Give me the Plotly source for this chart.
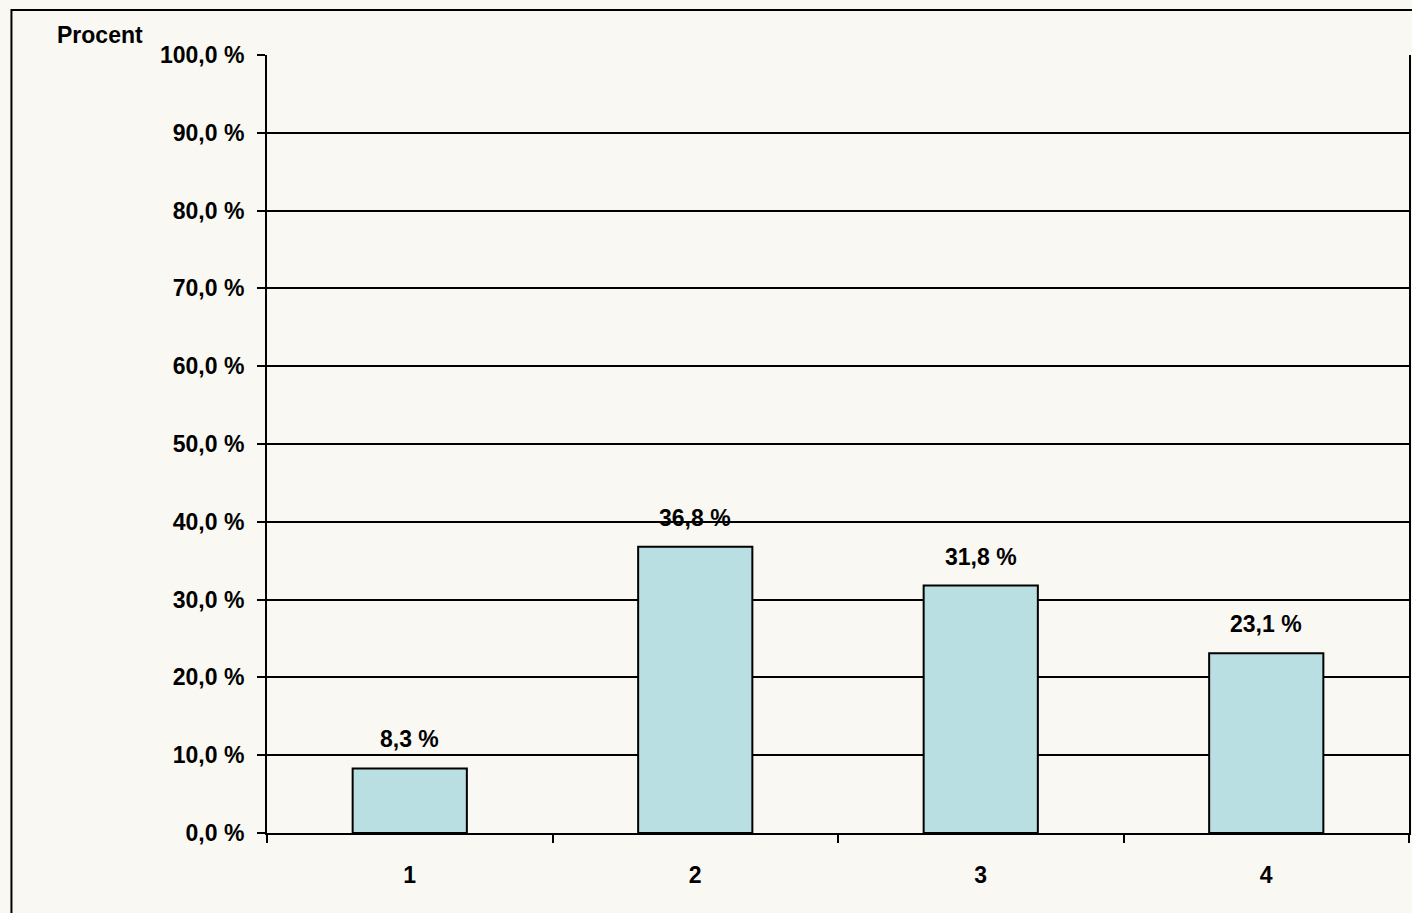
import plotly.graph_objects as go

categories = [1, 2, 3, 4]
category_labels = ["1", "2", "3", "4"]
values = [8.3, 36.8, 31.8, 23.1]
y_ticks = [0, 10, 20, 30, 40, 50, 60, 70, 80, 90, 100]
y_tick_labels = [f"{t:.1f} %".replace(".", ",") for t in y_ticks]

FONT = "Liberation Sans, Arial, sans-serif"
BG = "#F9F8F2"
TXT = dict(family=FONT, size=23, color="black", weight="bold")

fig = go.Figure()
fig.add_trace(go.Bar(
    x=categories,
    y=values,
    width=0.4,
    marker=dict(color="#B9DFE3", line=dict(color="black", width=2)),
    hoverinfo="skip",
))

for c, v in zip(categories, values):
    fig.add_annotation(
        x=c, y=v, xref="x", yref="y",
        text=f"{v:.1f} %".replace(".", ","),
        showarrow=False, yanchor="middle", yshift=29,
        font=TXT,
    )

fig.add_annotation(
    x=(99.5 - 267) / 1144, y=(833 - 35) / 778, xref="paper", yref="paper",
    text="Procent", showarrow=False, xanchor="center", yanchor="middle",
    font=TXT,
)

# outer chart frame
fig.add_shape(
    type="rect", xref="paper", yref="paper",
    x0=(11 - 267) / 1144, x1=1.2, y0=-0.3, y1=(833 - 10) / 778,
    line=dict(color="black", width=2), fillcolor="rgba(0,0,0,0)", layer="below",
)

fig.update_layout(
    width=1412, height=913,
    margin=dict(l=267, r=1, t=55, b=80, pad=0),
    paper_bgcolor=BG, plot_bgcolor=BG,
    showlegend=False,
    font=TXT,
)

fig.update_xaxes(
    range=[0.5, 4.5],
    tickvals=categories, ticktext=category_labels,
    ticks="", showgrid=False,
    showline=True, linecolor="black", linewidth=2, mirror=False,
    ticklabelstandoff=20,
    tickfont=TXT,
    minor=dict(tick0=0.5, dtick=1, ticks="outside", ticklen=8, tickwidth=2, tickcolor="black", showgrid=False),
    zeroline=False,
)
fig.update_yaxes(
    range=[0, 100],
    tickvals=y_ticks, ticktext=y_tick_labels,
    ticks="outside", ticklen=8, tickwidth=2, tickcolor="black",
    showgrid=True, gridcolor="black", gridwidth=1.5,
    showline=True, linecolor="black", linewidth=2, mirror=True,
    ticklabelstandoff=8,
    tickfont=TXT,
    zeroline=False,
)

fig.write_html(
    "out.html",
    config={"displayModeBar": False},
    post_script="document.body.style.margin='0';document.body.style.background='%s';" % BG,
)
